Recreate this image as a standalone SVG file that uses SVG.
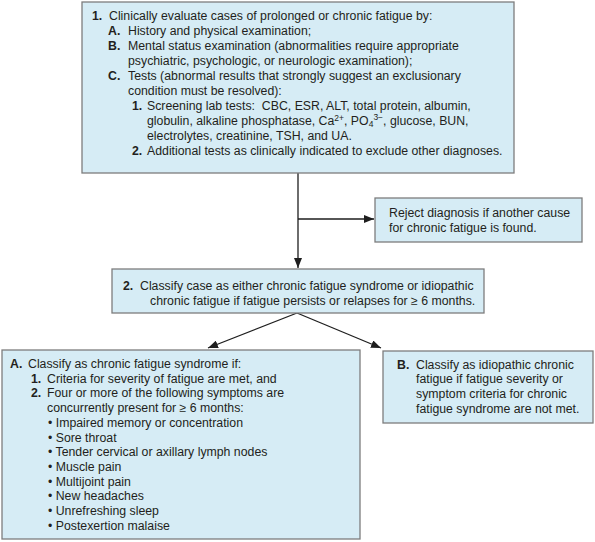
<svg xmlns="http://www.w3.org/2000/svg" width="595" height="542" viewBox="0 0 595 542">
<style>
.box{fill:#d6ecf5;stroke:#7d7d7d;stroke-width:1.3}
.t{font-family:"Liberation Sans",Arial,sans-serif;font-size:12.3px;fill:#231f20;white-space:pre}
.b{font-weight:bold}
.c{fill:none;stroke:#1e1e1e;stroke-width:1.3}
</style>
<defs>
<marker id="ah" markerWidth="10" markerHeight="8" refX="10" refY="4" orient="auto" markerUnits="userSpaceOnUse">
<path d="M0,0 L10,4 L0,8 Z" fill="#1e1e1e"/>
</marker>
</defs>
<rect width="595" height="542" fill="#ffffff"/>
<g id="connectors">
<path class="c" d="M298,173 V268" marker-end="url(#ah)"/>
<path class="c" d="M298,219 H374" marker-end="url(#ah)"/>
<path class="c" d="M297,313 L208,348" marker-end="url(#ah)"/>
<path class="c" d="M297,313 L381,348" marker-end="url(#ah)"/>
</g>
<g id="node-evaluate">
<rect class="box" x="82" y="2" width="432" height="171"/>
<text class="t b" x="92" y="19.5">1.</text><text class="t" x="109" y="19.5">Clinically evaluate cases of prolonged or chronic fatigue by:</text>
<text class="t b" x="108" y="34.5">A.</text><text class="t" x="128" y="34.5">History and physical examination;</text>
<text class="t b" x="108" y="49.5">B.</text><text class="t" x="128" y="49.5">Mental status examination (abnormalities require appropriate</text>
<text class="t" x="128" y="64.5">psychiatric, psychologic, or neurologic examination);</text>
<text class="t b" x="108" y="79.5">C.</text><text class="t" x="128" y="79.5">Tests (abnormal results that strongly suggest an exclusionary</text>
<text class="t" x="128" y="94.5">condition must be resolved):</text>
<text class="t b" x="132" y="109.5">1.</text><text class="t" x="147" y="109.5">Screening lab tests:  CBC, ESR, ALT, total protein, albumin,</text>
<text class="t" x="147" y="124.5">globulin, alkaline phosphatase, Ca<tspan dy="-4" font-size="8.5">2+</tspan><tspan dy="4">, PO</tspan><tspan dy="2.5" font-size="8.5">4</tspan><tspan dy="-7" font-size="8.5">3−</tspan><tspan dy="4.5">, glucose, BUN,</tspan></text>
<text class="t" x="147" y="139.5">electrolytes, creatinine, TSH, and UA.</text>
<text class="t b" x="132" y="154.5">2.</text><text class="t" x="147" y="154.5">Additional tests as clinically indicated to exclude other diagnoses.</text>
</g>
<g id="node-reject">
<rect class="box" x="375" y="198" width="207" height="44"/>
<text class="t" x="389" y="217">Reject diagnosis if another cause</text>
<text class="t" x="389" y="232">for chronic fatigue is found.</text>
</g>
<g id="node-classify">
<rect class="box" x="112" y="269" width="372" height="44"/>
<text class="t b" x="123" y="290">2.</text><text class="t" x="140" y="290">Classify case as either chronic fatigue syndrome or idiopathic</text>
<text class="t" x="150" y="305">chronic fatigue if fatigue persists or relapses for ≥ 6 months.</text>
</g>
<g id="node-cfs">
<rect class="box" x="2" y="350" width="358" height="189"/>
<text class="t b" x="10" y="368">A.</text><text class="t" x="28" y="368">Classify as chronic fatigue syndrome if:</text>
<text class="t b" x="31" y="382.7">1.</text><text class="t" x="47" y="382.7">Criteria for severity of fatigue are met, and</text>
<text class="t b" x="31" y="397.4">2.</text><text class="t" x="47" y="397.4">Four or more of the following symptoms are</text>
<text class="t" x="47" y="412.1">concurrently present for ≥ 6 months:</text>
<text class="t" x="48" y="426.8">• Impaired memory or concentration</text>
<text class="t" x="48" y="441.5">• Sore throat</text>
<text class="t" x="48" y="456.2">• Tender cervical or axillary lymph nodes</text>
<text class="t" x="48" y="470.9">• Muscle pain</text>
<text class="t" x="48" y="485.6">• Multijoint pain</text>
<text class="t" x="48" y="500.3">• New headaches</text>
<text class="t" x="48" y="515">• Unrefreshing sleep</text>
<text class="t" x="48" y="529.7">• Postexertion malaise</text>
</g>
<g id="node-idiopathic">
<rect class="box" x="383" y="351" width="210" height="72"/>
<text class="t b" x="397" y="368.5">B.</text><text class="t" x="416" y="368.5">Classify as idiopathic chronic</text>
<text class="t" x="416" y="383">fatigue if fatigue severity or</text>
<text class="t" x="416" y="397.5">symptom criteria for chronic</text>
<text class="t" x="416" y="412.5">fatigue syndrome are not met.</text>
</g>
</svg>
